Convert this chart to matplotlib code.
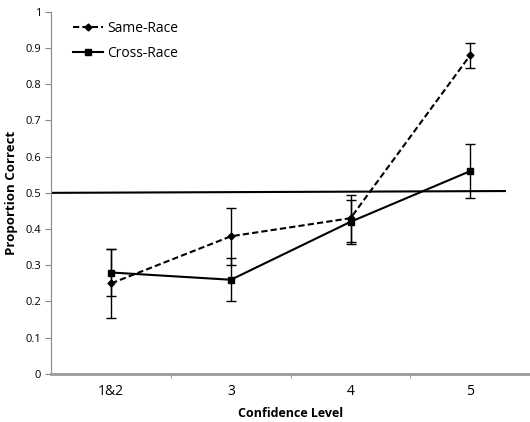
import matplotlib.pyplot as plt
from matplotlib.lines import Line2D
import numpy as np

plt.rcParams['font.family'] = ['Open Sans', 'DejaVu Sans']

levels = ['1&2', '3', '4', '5']
same_race = [0.25, 0.38, 0.43, 0.88]
same_err = [0.095, 0.078, 0.065, 0.035]
cross_race = [0.28, 0.26, 0.42, 0.56]
cross_err = [0.065, 0.06, 0.06, 0.075]
chance_x = [0.5, 4.29]
chance_y = [0.5, 0.505]

x = np.arange(1, len(levels) + 1)

fig = plt.figure(figsize=(5.3, 4.22), dpi=100)
ax = fig.add_axes([0.097, 0.114, 0.903, 0.858])

ax.plot(chance_x, chance_y, color='black', lw=1.5, zorder=2)

same_style = dict(color='black', ls=(0, (3, 1.5)), lw=1.5, marker='D', ms=3.5)
cross_style = dict(color='black', ls='-', lw=1.5, marker='s', ms=5)

ax.errorbar(x, same_race, yerr=same_err, capsize=3.5, elinewidth=1, capthick=1,
            zorder=3, **same_style)
ax.errorbar(x, cross_race, yerr=cross_err, capsize=3.5, elinewidth=1, capthick=1,
            zorder=3, **cross_style)

ax.set_xlim(0.5, 4.5)
ax.set_ylim(0, 1)
ax.set_yticks(np.arange(0, 1.01, 0.1))
ax.set_yticklabels(['0'] + ['%.1f' % v for v in np.arange(0.1, 0.95, 0.1)] + ['1'])
ax.set_xticks(x)
ax.set_xticklabels(levels, fontsize=10)
ax.set_xticks(np.arange(1.5, 4.5, 1), minor=True)
ax.tick_params(axis='x', which='major', length=0, pad=7)
ax.tick_params(axis='x', which='minor', length=3, color='#888888', direction='out')
ax.tick_params(axis='y', labelsize=8, length=4, color='#888888', direction='out')

for s in ['top', 'right']:
    ax.spines[s].set_visible(False)
ax.spines['left'].set_color('#888888')
ax.spines['bottom'].set_color('#999999')
ax.spines['bottom'].set_linewidth(2)

ax.set_xlabel('Confidence Level', fontweight='bold', fontsize=9, labelpad=6)
ax.set_ylabel('Proportion Correct', fontweight='bold', fontsize=9.5, labelpad=5)

handles = [Line2D([], [], **same_style), Line2D([], [], **cross_style)]
ax.legend(handles, ['Same-Race', 'Cross-Race'], loc='upper left',
          bbox_to_anchor=(0.02, 1.01), frameon=False, fontsize=10,
          handlelength=2.1, handletextpad=0.3, labelspacing=0.75)

fig.savefig('out.png', dpi=100)
